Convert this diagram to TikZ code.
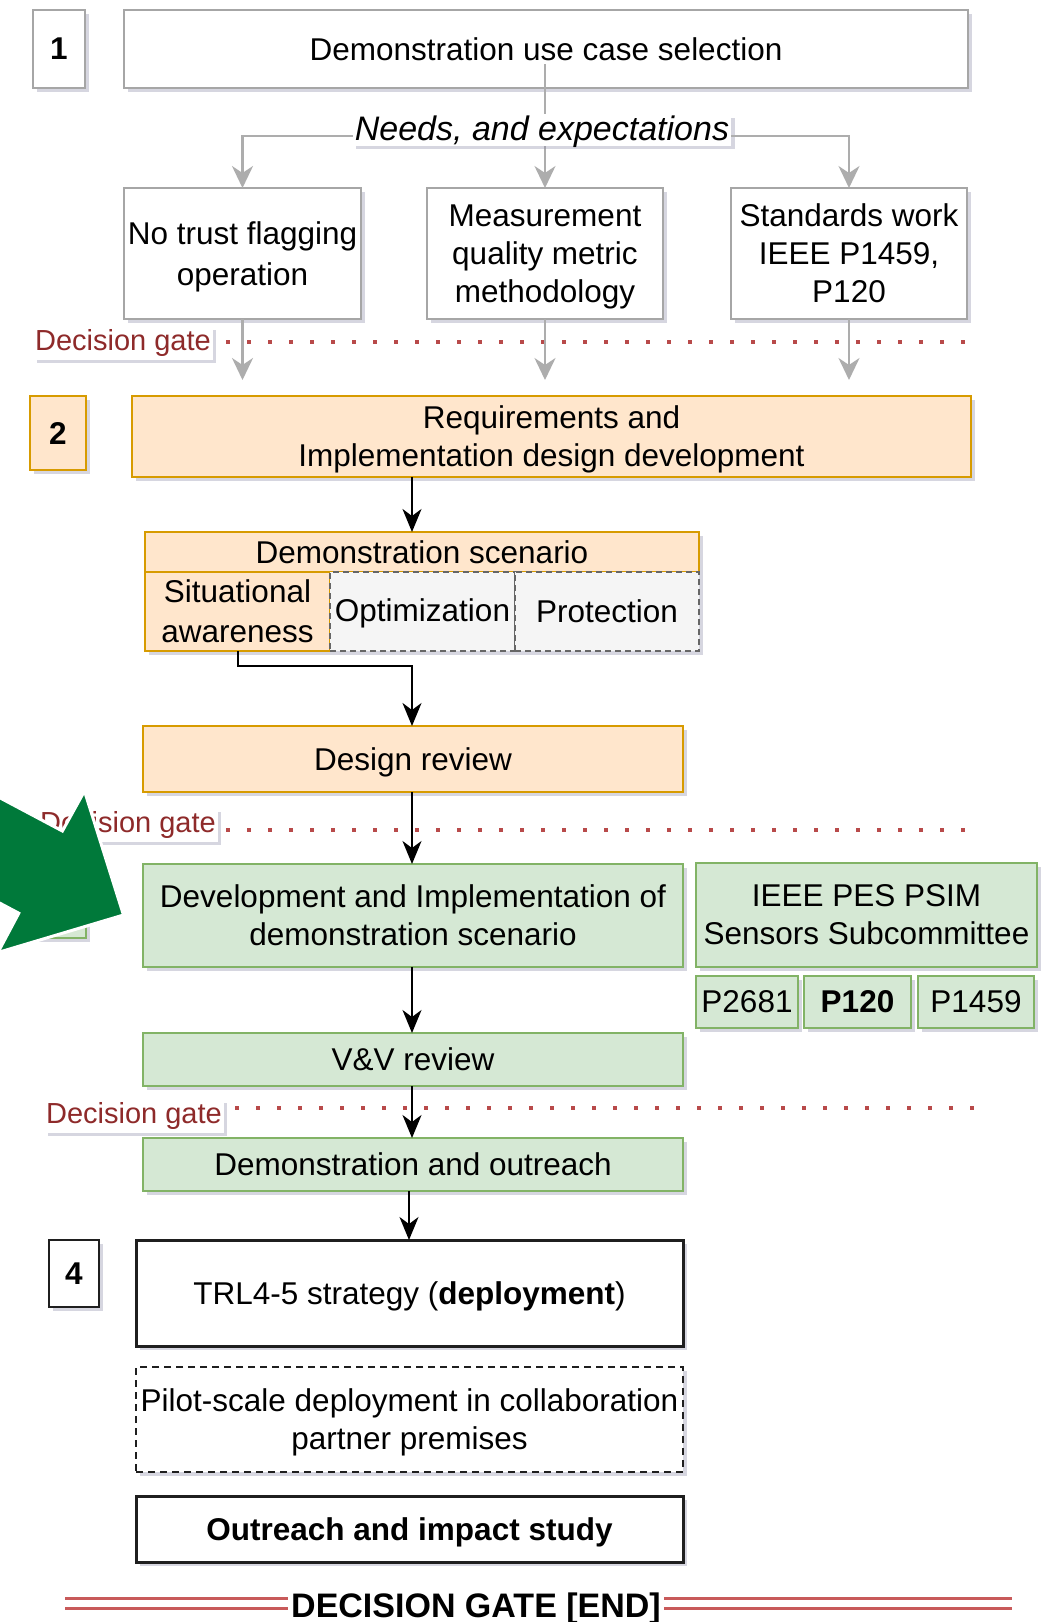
\documentclass[tikz,border=0pt]{standalone}
\usepackage{fontspec}
\setmainfont{Liberation Sans}
\usetikzlibrary{arrows.meta,shadows}
\definecolor{ofill}{HTML}{FFE6CC}
\definecolor{ostroke}{HTML}{D79B00}
\definecolor{gfill}{HTML}{D5E8D4}
\definecolor{gstroke}{HTML}{82B366}
\definecolor{cfill}{HTML}{F5F5F5}
\definecolor{cstroke}{HTML}{666666}
\definecolor{grayb}{HTML}{A6A6A6}
\definecolor{garrc}{HTML}{ADADAD}
\definecolor{dgtext}{HTML}{8E2A2A}
\definecolor{dgdot}{HTML}{B84A4A}
\definecolor{bigarrow}{HTML}{00793A}
\definecolor{shc}{HTML}{8C8CA8}
\definecolor{endred}{HTML}{C85A5A}
\newcommand{\fsmain}{\fontsize{31.5}{38}\selectfont}
\newcommand{\fsgate}{\fontsize{29}{34}\selectfont}
\begin{document}
\begin{tikzpicture}[x=1pt,y=-1pt,
  sh/.style={drop shadow={shadow xshift=3.5pt,shadow yshift=-3.5pt,opacity=0.35,fill=shc}},
  base/.style={rectangle,inner sep=0pt,outer sep=0pt,align=center,font=\fsmain,text=black},
  wbox/.style={base,draw=grayb,fill=white,line width=2pt,sh},
  obox/.style={base,draw=ostroke,fill=ofill,line width=2.5pt,sh},
  gbox/.style={base,draw=gstroke,fill=gfill,line width=2.5pt,sh},
  cbox/.style={base,draw=cstroke,fill=cfill,line width=1.8pt,dash pattern=on 6pt off 4pt,sh},
  kbox/.style={base,draw=black!88,fill=white,line width=3pt,sh},
  numbox/.style={font=\fsmain\bfseries},
  gate/.style={font=\fsgate,text=dgtext,fill=white,inner xsep=2pt,inner ysep=3pt,sh},
  dots/.style={draw=dgdot,line width=4pt,dash pattern=on 4pt off 17pt},
  garr/.style={draw=garrc,line width=2.5pt,-{Stealth[length=22pt,width=21pt,inset=7pt]}},
  barr/.style={draw=black,line width=2pt,-{Stealth[length=23pt,width=19pt,inset=7pt]}},
]
\fill[white] (0,0) rectangle (1052,1622);
\useasboundingbox (0,0) rectangle (1052,1622);
\clip (0,0) rectangle (1052,1622);

% ---------- Section 1 ----------
\node[wbox,numbox,minimum width=52pt,minimum height=78pt] (n1) at (59,49) {1};
\node[wbox,minimum width=844pt,minimum height=78pt] (top) at (546,49) {Demonstration use case selection};
\node[wbox,minimum width=237pt,minimum height=131pt,font=\fontsize{31.5}{41}\selectfont,text depth=-5pt] (nt) at (242.5,253.5) {No trust flagging\\operation};
\node[wbox,minimum width=236pt,minimum height=131pt,text depth=-3pt] (meas) at (545,253.5) {Measurement\\quality metric\\methodology};
\node[wbox,minimum width=236pt,minimum height=131pt,text depth=1.5pt] (std) at (849,253.5) {Standards work\\IEEE P1459,\\P120};

\coordinate (c64) at (545,64);
\draw[garr] (c64) -- (meas.north);
\node[fill=white,inner xsep=2pt,inner ysep=2pt,font=\fontsize{34}{38}\selectfont\itshape,text depth=3pt,sh] (needs) at (542,130) {Needs, and expectations};
\draw[garr] ([yshift=-6pt]needs.west) -| (nt.north);
\draw[garr] ([yshift=-6pt]needs.east) -| (std.north);

% decision gate 1
\coordinate (d1s) at (226,342);
\coordinate (d1e) at (967,342);
\draw[dots] (d1s) -- (d1e);
\node[gate] (dg1) at (123,343) {Decision gate};
\coordinate (g1) at (242.5,380);
\coordinate (g2) at (545,380);
\coordinate (g3) at (849,380);
\draw[garr] (nt.south) -- (g1);
\draw[garr] (meas.south) -- (g2);
\draw[garr] (std.south) -- (g3);

% ---------- Section 2 ----------
\coordinate (ax) at (412,0);
\coordinate (ax2) at (409,0);
\node[obox,numbox,minimum width=56pt,minimum height=74pt] (n2) at (58,433) {2};
\node[obox,minimum width=839pt,minimum height=81pt,text depth=-3pt] (req) at (551.5,436.5) {Requirements and\\Implementation design development};
\node[obox,minimum width=554pt,minimum height=40pt] (scen) at (422,552) {Demonstration scenario};
\node[obox,minimum width=185pt,minimum height=79pt,font=\fontsize{31.5}{40}\selectfont] (sa) at (237.5,611.5) {Situational\\awareness};
\node[cbox,minimum width=185pt,minimum height=79pt,text depth=2.5pt] (opt) at (422.5,611.5) {Optimization};
\node[cbox,minimum width=184pt,minimum height=79pt] (prot) at (607,611.5) {Protection};
\draw[barr] (req.south -| ax) -- (scen.north -| ax);
\node[obox,minimum width=540pt,minimum height=66pt,text depth=0pt] (dr) at (413,759) {Design review};
\draw[barr] (sa.south) -- ++(0,15) -| (dr.north -| ax);

% decision gate 2
\coordinate (d2s) at (226,830);
\coordinate (d2e) at (971,830);
\draw[dots] (d2s) -- (d2e);
\node[gate] (dg2) at (128,825) {Decision gate};

% ---------- Section 3 ----------
\node[gbox,numbox,minimum width=55pt,minimum height=74pt] (n3) at (58.5,901) {3};
\node[gbox,minimum width=540pt,minimum height=103pt] (dev) at (413,915.5) {Development and Implementation of\\demonstration scenario};
\draw[barr] (dr.south -| ax) -- (dev.north -| ax);
\node[gbox,minimum width=341pt,minimum height=104pt] (ieee) at (866.5,915) {IEEE PES PSIM\\Sensors Subcommittee};
\node[gbox,minimum width=102pt,minimum height=52pt] (p2681) at (747,1002) {P2681};
\node[gbox,minimum width=107pt,minimum height=52pt,font=\fsmain\bfseries] (p120) at (857.5,1002) {P120};
\node[gbox,minimum width=116pt,minimum height=52pt] (p1459) at (976,1002) {P1459};
\node[gbox,minimum width=540pt,minimum height=53pt] (vv) at (413,1059.5) {V\&V review};
\draw[barr] (dev.south -| ax) -- (vv.north -| ax);

% decision gate 3
\coordinate (d3s) at (235,1108);
\coordinate (d3e) at (979,1108);
\draw[dots] (d3s) -- (d3e);
\node[gate] (dg3) at (134,1116) {Decision gate};
\node[gbox,minimum width=540pt,minimum height=53pt] (do) at (413,1164.5) {Demonstration and outreach};
\draw[barr] (vv.south -| ax) -- (do.north -| ax);

% ---------- Section 4 ----------
\node[base,draw=black!88,line width=2.5pt,fill=white,sh,numbox,minimum width=50pt,minimum height=67pt] (n4) at (74,1273.5) {4};
\node[kbox,minimum width=547pt,minimum height=106pt,text depth=0pt] (trl) at (409.5,1293) {TRL4-5 strategy (\textbf{deployment})};
\draw[barr] (do.south -| ax2) -- (trl.north -| ax2);
\node[base,draw=black!88,line width=2.5pt,dash pattern=on 7pt off 5pt,fill=white,sh,minimum width=547pt,minimum height=105pt,text depth=-2pt] (pilot) at (409.5,1419.5) {Pilot-scale deployment in collaboration\\partner premises};
\node[kbox,minimum width=547pt,minimum height=66pt,font=\fsmain\bfseries,text depth=0pt] (outr) at (409.5,1529) {Outreach and impact study};

% ---------- End gate ----------
\coordinate (el) at (65,1603);
\coordinate (er) at (1012,1603);
\draw[draw=endred,line width=3pt,double=white,double distance=7pt] (el) -- (er);
\node[anchor=base,fill=white,inner xsep=3pt,inner ysep=4pt,font=\fontsize{34}{38}\selectfont\bfseries] (endg) at (476,1617) {DECISION GATE [END]};

% ---------- Big green arrow ----------
\filldraw[fill=bigarrow,draw=white,line width=3pt,line join=miter]
  (-31.2,781.3) -- (62.4,831) -- (84.5,791) -- (123.5,915) -- (-2.1,952.5) -- (18.8,913.2) -- (-74.8,863.5) -- cycle;
\end{tikzpicture}
\end{document}
